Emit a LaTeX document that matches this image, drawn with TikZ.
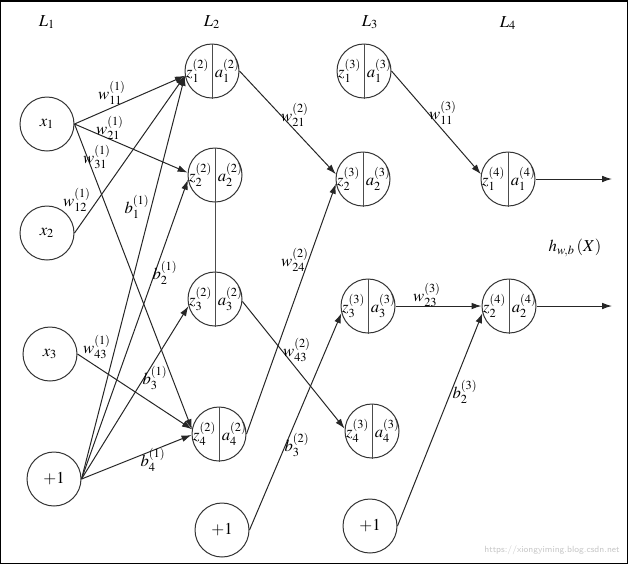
\documentclass[tikz,border=0pt]{standalone}
\usepackage{mathptmx}
\usetikzlibrary{arrows.meta}

% one unit: circle split by a vertical bar, z on the left, a on the right
\newcommand{\neuroncell}[4]{%
    \node [cell] (#1) at (#2) {};
    \draw [bar] (#1.north) -- (#1.south);
    \node [anchor=east, inner sep=1.5pt] (#1z) at (#1.center) {$#3$};
    \node [anchor=west, inner sep=1.5pt] (#1a) at (#1.center) {$#4$};
}

\begin{document}
\begin{tikzpicture}[x=0.6pt, y=-0.6pt,
        cell/.style={circle, draw=black!80, line width=0.6pt, minimum size=32.4pt, inner sep=0pt},
        bar/.style={draw=black!70, line width=0.6pt},
        syn/.style={draw=black!85, line width=0.6pt, -{Latex[length=6pt,width=4pt]}},
        wire/.style={draw=black!85, line width=0.6pt}]
            \useasboundingbox (0,0) rectangle (630,565);
            \draw [line width=0.9pt] (0.75,0.75) rectangle (627.5,563.5);

            % layer titles
            \node (l1) at (47,22) {$L_1$};
            \node (l2) at (212,22) {$L_2$};
            \node (l3) at (370,22) {$L_3$};
            \node (l4) at (508,23) {$L_4$};

            % inputs
            \node [cell] (x1) at (47,124) {$x_1$};
            \node [cell] (x2) at (47,233) {$x_2$};
            \node [cell] (x3) at (50,354) {$x_3$};
            \node [cell] (bias1) at (54,479) {$+1$};

            % layer 2
            \neuroncell{n21}{212,71}{z_1^{(2)}}{a_1^{(2)}}
            \neuroncell{n22}{215,175}{z_2^{(2)}}{a_2^{(2)}}
            \neuroncell{n23}{215,299}{z_3^{(2)}}{a_3^{(2)}}
            \neuroncell{n24}{219,434}{z_4^{(2)}}{a_4^{(2)}}
            \node [cell] (bias2) at (222,530) {$+1$};
            \draw [bar] (n22.south) -- (n23.north);

            % layer 3
            \neuroncell{n31}{364,71}{z_1^{(3)}}{a_1^{(3)}}
            \neuroncell{n32}{363,179}{z_2^{(3)}}{a_2^{(3)}}
            \neuroncell{n33}{368,306}{z_3^{(3)}}{a_3^{(3)}}
            \neuroncell{n34}{372,431}{z_4^{(3)}}{a_4^{(3)}}
            \node [cell] (bias3) at (370,526) {$+1$};

            % layer 4
            \neuroncell{n41}{508,179}{z_1^{(4)}}{a_1^{(4)}}
            \neuroncell{n42}{509,306}{z_2^{(4)}}{a_2^{(4)}}
            \coordinate (out1) at (612,179);
            \coordinate (out2) at (612,306);

            % L1 -> L2
            \draw [syn] (x1.east) -- (n21.190);
            \draw [syn] (x1.east) -- (n22.175);
            \draw [syn] (x1.east) -- (n24.170);
            \draw [syn] (x2.east) -- (n21.190);
            \draw [syn] (x3.east) -- (n24.170);
            \draw [syn] (bias1.east) -- (n21.190);
            \draw [syn] (bias1.east) -- (n22.190);
            \draw [syn] (bias1.east) -- (n23.195);
            \draw [syn] (bias1.east) -- (n24.182);

            % L2 -> L3
            \draw [syn] (n21.east) -- (n32.170);
            \draw [syn] (n24.east) -- (n32.190);
            \draw [syn] (n23.355) -- (n34.175);
            \draw [syn] (bias2.east) -- (n33.195);

            % L3 -> L4
            \draw [syn] (n31.east) -- (n41.170);
            \draw [syn] (n33.east) -- (n42.west);
            \draw [syn] (bias3.east) -- (n42.195);

            % outputs
            \draw [syn] (n41.east) -- (out1);
            \draw [syn] (n42.east) -- (out2);
            \node (hwb) at (575,248) {$h_{w,b}\left(X\right)$};

            % weights
            \node (w111) at (112,93) {$w_{11}^{(1)}$};
            \node (w211) at (110,128) {$w_{21}^{(1)}$};
            \node (w311) at (97,157) {$w_{31}^{(1)}$};
            \node (w121) at (77,200) {$w_{12}^{(1)}$};
            \node (w431) at (97,347) {$w_{43}^{(1)}$};
            \node (b11) at (137,207) {$b_1^{(1)}$};
            \node (b21) at (165,273) {$b_2^{(1)}$};
            \node (b31) at (155,378) {$b_3^{(1)}$};
            \node (b41) at (153,460) {$b_4^{(1)}$};
            \node (w212) at (295,115) {$w_{21}^{(2)}$};
            \node (w242) at (295,260) {$w_{24}^{(2)}$};
            \node (w432) at (297,350) {$w_{43}^{(2)}$};
            \node (b32) at (297,445) {$b_3^{(2)}$};
            \node (w113) at (443,113) {$w_{11}^{(3)}$};
            \node (w233) at (427,295) {$w_{23}^{(3)}$};
            \node (b23) at (465,392) {$b_2^{(3)}$};

            \node [text=black!22, font=\sffamily\fontsize{5.4}{6}\selectfont, anchor=east, inner sep=0pt] (mark) at (620,550) {https://xiongyiming.blog.csdn.net};
\end{tikzpicture}
\end{document}
